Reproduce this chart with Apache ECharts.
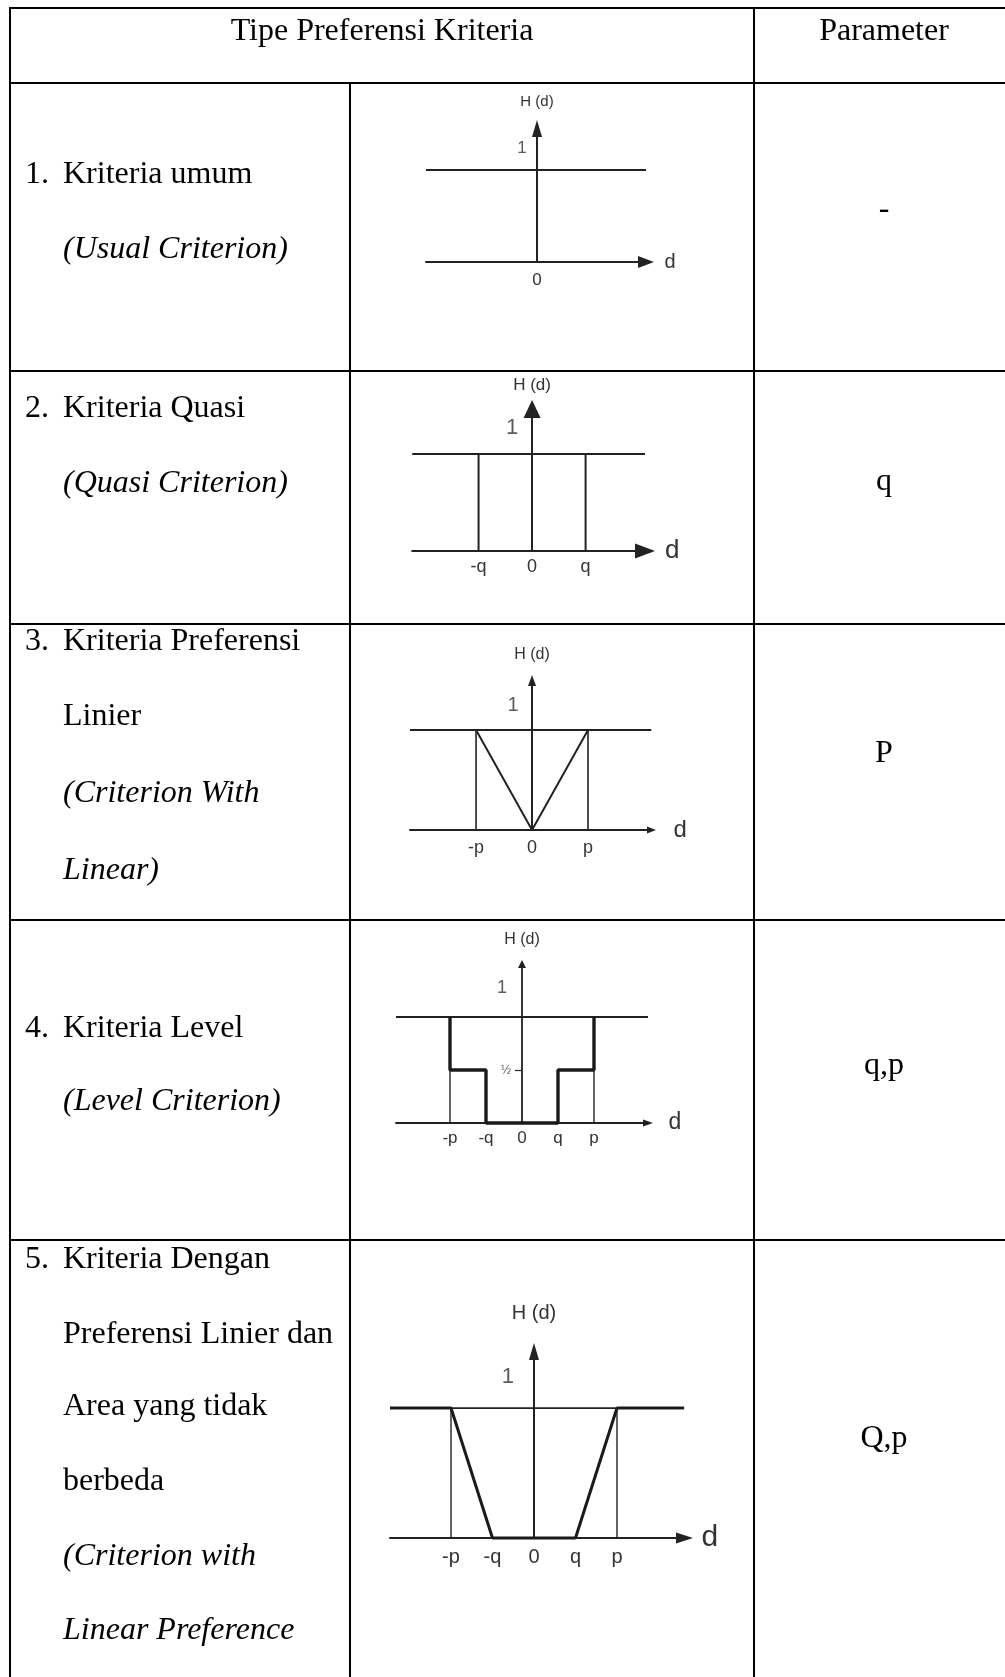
<!DOCTYPE html>
<html>
<head>
<meta charset="utf-8">
<script src="https://cdn.jsdelivr.net/npm/echarts@6/dist/echarts.min.js"></script>
<style>
  html, body { margin: 0; padding: 0; background: #ffffff; }
  #chart { width: 1005px; height: 1677px; }
</style>
</head>
<body>
<div id="chart"></div>
<script>
// ================= DATA =================
// table text
const headerLabels = ['Tipe Preferensi Kriteria', 'Parameter'];
const criteriaNumbers = ['1.', '2.', '3.', '4.', '5.'];
const criteriaLines = [
  ['Kriteria umum', '(Usual Criterion)'],
  ['Kriteria Quasi', '(Quasi Criterion)'],
  ['Kriteria Preferensi', 'Linier', '(Criterion With', 'Linear)'],
  ['Kriteria Level', '(Level Criterion)'],
  ['Kriteria Dengan', 'Preferensi Linier dan', 'Area yang tidak', 'berbeda', '(Criterion with', 'Linear Preference']
];
const criteriaItalicFrom = [1, 1, 2, 1, 4];
const parameterLabels = ['-', 'q', 'P', 'q,p', 'Q,p'];

// chart 1 — Usual Criterion
const usualTickValues = [0];
const usualTickLabels = ['0'];
const usualYPoints = [[0, 1]];
const usualYLabels = ['1'];
const usualH = [[-2.22, 1], [2.18, 1]];

// chart 2 — Quasi Criterion (q = 1)
const quasiTickValues = [-1, 0, 1];
const quasiTickLabels = ['-q', '0', 'q'];
const quasiYPoints = [[0, 1]];
const quasiYLabels = ['1'];
const quasiH = [[-2.24, 1], [-1, 1], [-1, 0], [1, 0], [1, 1], [2.11, 1]];
const quasiUnitLine = [[-1, 1], [1, 1]];

// chart 3 — Criterion with Linear preference (p = 1)
const linearTickValues = [-1, 0, 1];
const linearTickLabels = ['-p', '0', 'p'];
const linearYPoints = [[0, 1]];
const linearYLabels = ['1'];
const linearH = [[-2.18, 1], [-1, 1], [0, 0], [1, 1], [2.13, 1]];
const linearUnitLine = [[-1, 1], [1, 1]];
const linearLeftDrop = [[-1, 0], [-1, 1]];
const linearRightDrop = [[1, 0], [1, 1]];

// chart 4 — Level Criterion (q = 1, p = 2)
const levelTickValues = [-2, -1, 0, 1, 2];
const levelTickLabels = ['-p', '-q', '0', 'q', 'p'];
const levelYPoints = [[0, 1], [0, 0.5]];
const levelYLabels = ['1', '½'];
const levelUnitLine = [[-3.5, 1], [3.5, 1]];
const levelH = [[-2, 1], [-2, 0.5], [-1, 0.5], [-1, 0], [1, 0], [1, 0.5], [2, 0.5], [2, 1]];
const levelLeftDrop = [[-2, 0], [-2, 0.5]];
const levelRightDrop = [[2, 0], [2, 0.5]];

// chart 5 — Linear preference with indifference area (q = 1, p = 2)
const indiffTickValues = [-2, -1, 0, 1, 2];
const indiffTickLabels = ['-p', '-q', '0', 'q', 'p'];
const indiffYPoints = [[0, 1]];
const indiffYLabels = ['1'];
const indiffH = [[-3.47, 1], [-2, 1], [-1, 0], [1, 0], [2, 1], [3.62, 1]];
const indiffUnitLine = [[-2, 1], [2, 1]];
const indiffLeftDrop = [[-2, 0], [-2, 1]];
const indiffRightDrop = [[2, 0], [2, 1]];

// ================= LAYOUT / STYLE =================
const SERIF = '"Liberation Serif", "Times New Roman", serif';
const SANS = '"Liberation Sans", Arial, sans-serif';
const INK = '#000000';
const LINE = '#222222';
const LABEL = '#333333';

const tableLeft = 10, tableRight = 1005, tableTop = 8, tableBottom = 1677;
const rowLines = [83, 371, 624, 920, 1240];
const colInner = 350, colParam = 754;
const headerBaseline = 43;
const rowBaselines = [
  [186, 261],
  [420, 495],
  [653, 728, 805, 882],
  [1040, 1113],
  [1271, 1346, 1418, 1493, 1568, 1642]
];
const paramMid = [210, 482, 754, 1066, 1439];

const panels = [
  { grid: { left: 426, top: 128.5, width: 220, height: 133.5 }, xMin: -2.22, xMax: 2.18, yMax: 1.451,
    xArrow: [12, 16], yArrow: [10, 17], axisW: 2,
    ticks: usualTickValues, tickLabels: usualTickLabels, tickFont: 17, tickMargin: 9.5,
    yPoints: usualYPoints, yLabels: usualYLabels, yFonts: [17], yOffsets: [[-15, -22]],
    hFont: 15, hGap: 19, dFont: 20, dGap: 18.5 },
  { grid: { left: 412.2, top: 409, width: 232.8, height: 142 }, xMin: -2.24, xMax: 2.11, yMax: 1.464,
    xArrow: [15, 20], yArrow: [17, 18], axisW: 2,
    ticks: quasiTickValues, tickLabels: quasiTickLabels, tickFont: 18, tickMargin: 7,
    yPoints: quasiYPoints, yLabels: quasiYLabels, yFonts: [22], yOffsets: [[-20, -26]],
    hFont: 17, hGap: 15.5, dFont: 26, dGap: 20 },
  { grid: { left: 410, top: 680.5, width: 241.5, height: 149.5 }, xMin: -2.18, xMax: 2.134, yMax: 1.495,
    xArrow: [7, 9], yArrow: [8, 11], axisW: 2,
    ticks: linearTickValues, tickLabels: linearTickLabels, tickFont: 18, tickMargin: 9,
    yPoints: linearYPoints, yLabels: linearYLabels, yFonts: [20], yOffsets: [[-19, -25]],
    hFont: 16, hGap: 17.5, dFont: 24, dGap: 22 },
  { grid: { left: 396, top: 964, width: 252, height: 159 }, xMin: -3.5, xMax: 3.5, yMax: 1.5,
    xArrow: [7, 10], yArrow: [8, 8], axisW: 1.8, halfTick: true,
    ticks: levelTickValues, tickLabels: levelTickLabels, tickFont: 17, tickMargin: 6.5,
    yPoints: levelYPoints, yLabels: levelYLabels, yFonts: [18, 12], yOffsets: [[-20, -29], [-16, 1]],
    hFont: 16, hGap: 16, dFont: 23, dGap: 20.5 },
  { grid: { left: 390, top: 1351.5, width: 294.5, height: 186.5 }, xMin: -3.47, xMax: 3.627, yMax: 1.435,
    xArrow: [11, 17], yArrow: [10, 17], axisW: 2,
    ticks: indiffTickValues, tickLabels: indiffTickLabels, tickFont: 20, tickMargin: 9,
    yPoints: indiffYPoints, yLabels: indiffYLabels, yFonts: [22], yOffsets: [[-26, -31]],
    hFont: 20, hGap: 28.5, dFont: 30, dGap: 17 }
];

// ================= BUILD OPTION =================
const grids = [], xAxes = [], yAxes = [], series = [];

panels.forEach(function (p, i) {
  grids.push(Object.assign({ containLabel: false, outerBoundsMode: 'none' }, p.grid));
  xAxes.push({
    type: 'value', gridIndex: i, min: p.xMin, max: p.xMax,
    axisLine: { show: true, onZero: true, symbol: ['none', 'triangle'], symbolSize: p.xArrow,
                lineStyle: { color: LINE, width: p.axisW } },
    axisTick: { show: false },
    splitLine: { show: false },
    axisLabel: {
      customValues: p.ticks, margin: p.tickMargin, color: LABEL, fontSize: p.tickFont, fontFamily: SANS,
      formatter: function (v) { const k = p.ticks.indexOf(v); return k >= 0 ? p.tickLabels[k] : ''; }
    },
    name: 'd', nameLocation: 'end', nameGap: p.dGap,
    nameTextStyle: { color: LABEL, fontSize: p.dFont, fontFamily: SANS }
  });
  yAxes.push({
    type: 'value', gridIndex: i, min: 0, max: p.yMax,
    axisLine: { show: true, onZero: true, symbol: ['none', 'triangle'], symbolSize: p.yArrow,
                lineStyle: { color: LINE, width: p.axisW } },
    axisTick: p.halfTick ? { show: true, customValues: [0.5], length: 7, lineStyle: { color: LINE, width: 1.2 } } : { show: false },
    splitLine: { show: false },
    axisLabel: { show: false },
    name: 'H (d)', nameLocation: 'end', nameGap: p.hGap,
    nameTextStyle: { color: LABEL, fontSize: p.hFont, fontFamily: SANS }
  });
  // value labels of the H axis ("1", "½") placed next to their level through the axis scale
  series.push({
    type: 'scatter', xAxisIndex: i, yAxisIndex: i, silent: true, z: 5,
    symbol: 'circle', symbolSize: 1, itemStyle: { color: 'rgba(0,0,0,0)' },
    data: p.yPoints.map(function (pt, k) {
      return {
        value: pt,
        label: { show: true, position: 'inside', offset: p.yOffsets[k], formatter: p.yLabels[k],
                 color: LABEL, fontSize: p.yFonts[k], fontFamily: SANS }
      };
    })
  });
});

function seg(i, data, width, color) {
  series.push({
    type: 'line', xAxisIndex: i, yAxisIndex: i, data: data,
    showSymbol: false, symbol: 'none', silent: true, clip: false, animation: false,
    lineStyle: { color: color || LINE, width: width }, z: 3
  });
}
// chart 1
seg(0, usualH, 2);
// chart 2
seg(1, quasiH, 2);
seg(1, quasiUnitLine, 2);
// chart 3
seg(2, linearH, 2);
seg(2, linearUnitLine, 2);
seg(2, linearLeftDrop, 1.6);
seg(2, linearRightDrop, 1.6);
// chart 4
seg(3, levelUnitLine, 1.8);
seg(3, levelH, 3.4, '#1a1a1a');
seg(3, levelLeftDrop, 1.4);
seg(3, levelRightDrop, 1.4);
// chart 5
seg(4, indiffUnitLine, 1.8);
seg(4, indiffH, 3, '#1a1a1a');
seg(4, indiffLeftDrop, 1.4);
seg(4, indiffRightDrop, 1.4);

// ---- table graphics ----
const elements = [];
function hline(y, x1, x2) {
  elements.push({ type: 'line', shape: { x1: x1, y1: y, x2: x2, y2: y }, style: { stroke: INK, lineWidth: 2 }, z: 100 });
}
function vline(x, y1, y2) {
  elements.push({ type: 'line', shape: { x1: x, y1: y1, x2: x, y2: y2 }, style: { stroke: INK, lineWidth: 2 }, z: 100 });
}
function txt(s, x, y, align, italic) {
  elements.push({
    type: 'text', x: x, y: y, z: 101,
    style: { text: s, font: (italic ? 'italic ' : '') + '32px ' + SERIF, fill: INK,
             align: align, textAlign: align, verticalAlign: 'middle', textVerticalAlign: 'middle' }
  });
}
hline(tableTop, tableLeft - 1, tableRight);
rowLines.forEach(function (y) { hline(y, tableLeft - 1, tableRight); });
vline(tableLeft, tableTop - 1, tableBottom);
vline(colInner, rowLines[0], tableBottom);
vline(colParam, tableTop - 1, tableBottom);

const MID = 11; // baseline -> middle offset for 32px serif
txt(headerLabels[0], (tableLeft + colParam) / 2, headerBaseline - MID, 'center', false);
txt(headerLabels[1], 884, headerBaseline - MID, 'center', false);

criteriaLines.forEach(function (lines, r) {
  txt(criteriaNumbers[r], 25, rowBaselines[r][0] - MID, 'left', false);
  lines.forEach(function (s, k) {
    txt(s, 63, rowBaselines[r][k] - MID, 'left', k >= criteriaItalicFrom[r]);
  });
  txt(parameterLabels[r], 884, paramMid[r], 'center', false);
});

const option = {
  backgroundColor: '#ffffff',
  animation: false,
  grid: grids,
  xAxis: xAxes,
  yAxis: yAxes,
  series: series,
  graphic: { elements: elements }
};

const chart = echarts.init(document.getElementById('chart'), null, { renderer: 'canvas', width: 1005, height: 1677 });
chart.setOption(option);
</script>
</body>
</html>
